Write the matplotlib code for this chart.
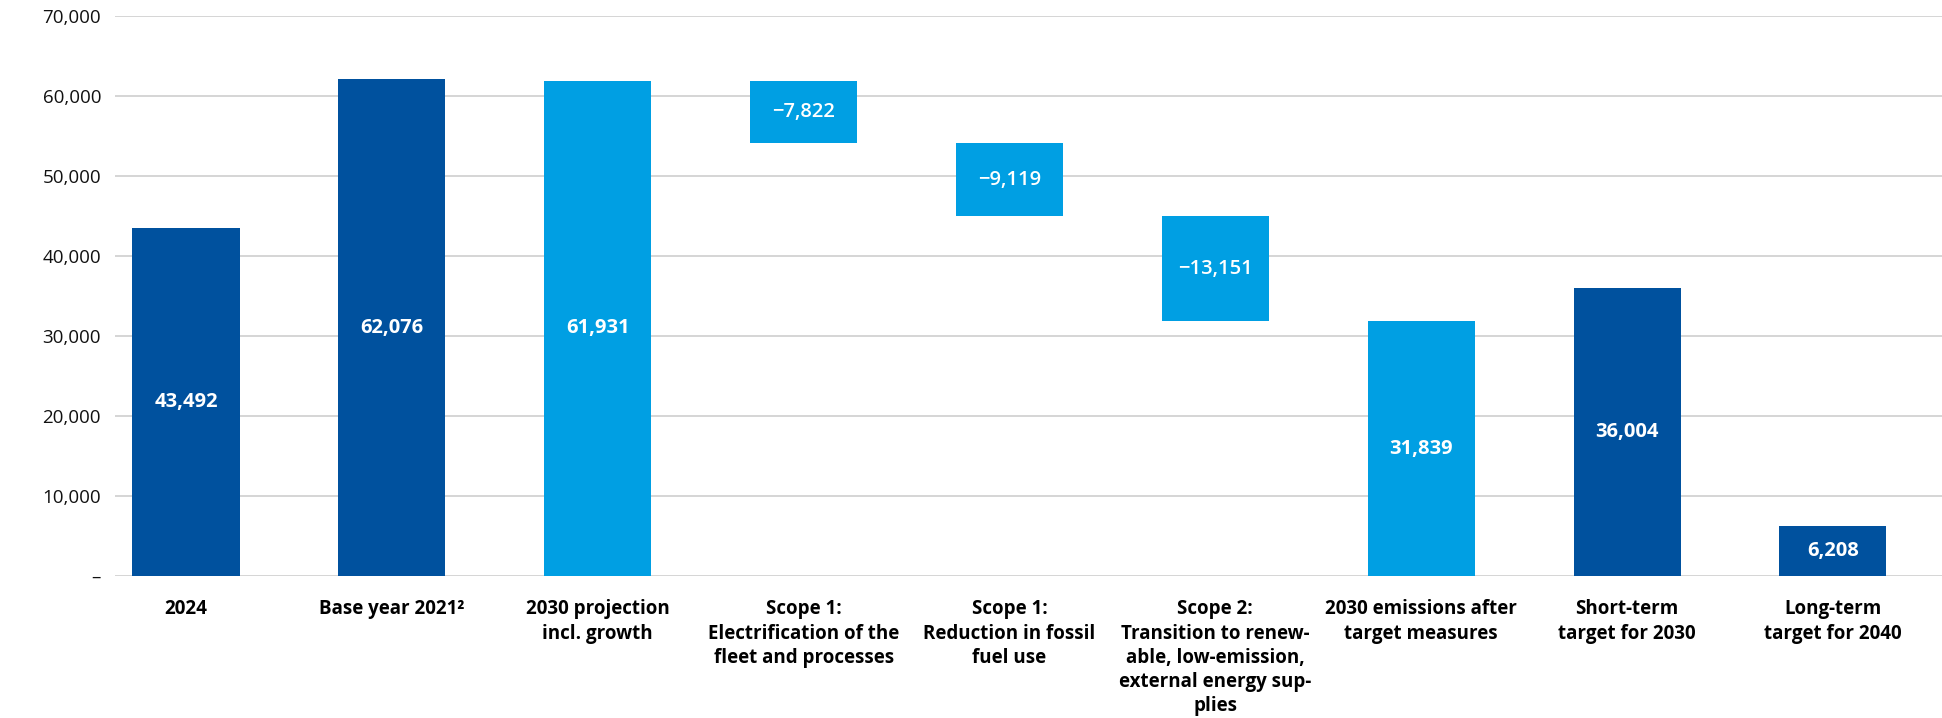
import numpy as np
from matplotlib import pyplot as plt
from matplotlib.ticker import FuncFormatter

plt.rcParams['font.family'] = ['Open Sans', 'DejaVu Sans']

categories = ["2024", "Base year 2021²", "2030 projection\nincl. growth",
              "Scope 1:\nElectrification of the\nfleet and processes",
              "Scope 1:\nReduction in fossil\nfuel use",
              "Scope 2:\nTransition to renew-\nable, low-emission,\nexternal energy sup-\nplies",
              "2030 emissions after\ntarget measures", "Short-term\ntarget for 2030",
              "Long-term\ntarget for 2040"]
values = [43492, 62076, 61931, -7822, -9119, -13151, 31839, 36004, 6208]
is_delta = [False, False, False, True, True, True, False, False, False]
dark = "#00519E"
light = "#009FE3"
colors = [dark, dark, light, light, light, light, light, dark, dark]

# waterfall bottoms
bottoms = []
heights = []
running = values[2]
for v, d in zip(values, is_delta):
    if d:
        running = running + v
        bottoms.append(running)
        heights.append(-v)
    else:
        bottoms.append(0)
        heights.append(v)

fig = plt.figure(figsize=(19.42, 7.18), dpi=100)
ax = fig.add_axes([0.0592, 0.198, 0.9408, 0.7797])

x = np.arange(len(categories))
ax.bar(x, heights, bottom=bottoms, width=0.52, color=colors, zorder=3)

for i in range(len(values)):
    mid = bottoms[i] + heights[i] / 2
    if is_delta[i]:
        txt = "\u2212" + format(-values[i], ",")
        ax.text(x[i], mid, txt, color="white", ha="center", va="center",
                fontsize=14.5, fontweight="semibold", zorder=4)
    else:
        ax.text(x[i], mid, format(values[i], ","), color="white", ha="center",
                va="center", fontsize=14.5, fontweight="bold", zorder=4)

ax.set_ylim(0, 70000)
ax.set_xlim(-0.345, 8.53)
ax.set_yticks(np.arange(0, 70001, 10000))
ax.yaxis.set_major_formatter(FuncFormatter(lambda v, p: "\u2013" if v == 0 else format(int(v), ",")))
ax.set_xticks(x)
ax.set_xticklabels(categories, fontsize=13.5, fontweight="bold", linespacing=1.28, va="top")
ax.tick_params(axis="x", length=0, pad=17)
ax.tick_params(axis="y", length=0, pad=10, labelsize=13.5, labelcolor="#111111")
ax.grid(axis="y", color="#d2d2d2", linewidth=1.3, zorder=0)
for s in ax.spines.values():
    s.set_visible(False)

plt.savefig("out.png", dpi=100)
